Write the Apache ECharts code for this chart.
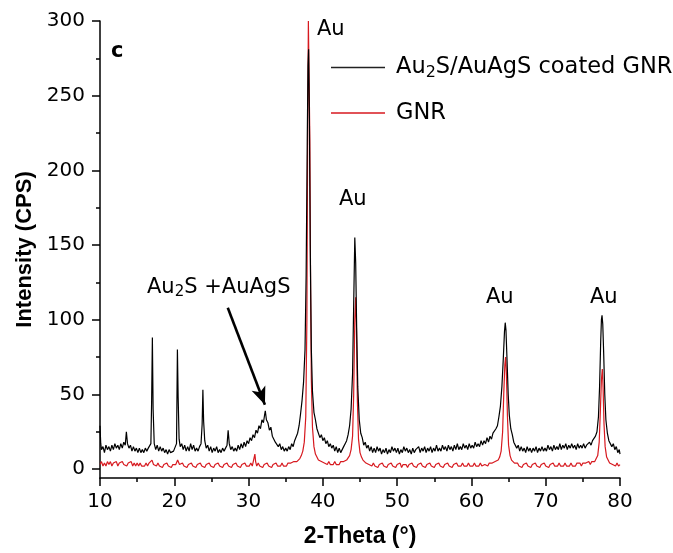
<!DOCTYPE html>
<html>
<head>
<meta charset="utf-8">
<script src="https://cdn.jsdelivr.net/npm/echarts@6/dist/echarts.min.js"></script>
<style>html,body{margin:0;padding:0;background:#fff;}#chart{width:673px;height:553px;}</style>
</head>
<body>
<div id="chart"></div>
<script>
// ---- data (2-Theta in degrees, intensity in CPS) ----
const coatedGNR = [
[10.0,29],[10.1,17],[10.2,13],[10.4,15],[10.6,11],[10.8,16],[11.0,13],[11.2,15],[11.4,12],[11.6,16],[11.8,13],[12.0,17],[12.2,14],[12.4,16],[12.6,13],[12.8,17],[13.0,14],[13.2,18],[13.4,16],[13.55,25],[13.7,17],[13.9,14],[14.1,16],[14.3,12],[14.5,15],[14.7,12],[14.9,14],[15.1,11],[15.3,14],[15.5,11],[15.7,13],[15.9,11],[16.1,14],[16.3,12],[16.5,14],[16.7,13],[16.85,17],[16.95,45],[17.05,88],[17.15,40],[17.3,17],[17.5,13],[17.7,16],[17.9,12],[18.1,15],[18.3,12],[18.5,14],[18.7,11],[18.9,13],[19.1,10],[19.3,13],[19.5,11],[19.7,10],[19.9,12],[20.1,11],[20.3,17],[20.42,80],[20.52,48],[20.65,20],[20.8,15],[21.0,17],[21.2,13],[21.4,16],[21.6,12],[21.8,15],[22.0,12],[22.2,17],[22.4,13],[22.6,16],[22.8,12],[23.0,14],[23.2,12],[23.4,15],[23.6,17],[23.75,30],[23.85,53],[23.95,32],[24.1,19],[24.3,14],[24.5,16],[24.7,12],[24.9,15],[25.1,11],[25.3,14],[25.5,12],[25.7,15],[25.9,11],[26.1,13],[26.3,11],[26.5,14],[26.7,12],[26.9,14],[27.1,16],[27.25,26],[27.4,17],[27.6,13],[27.8,15],[28.0,12],[28.2,14],[28.4,12],[28.6,16],[28.8,13],[29.0,17],[29.2,14],[29.4,18],[29.6,15],[29.8,19],[30.0,17],[30.2,21],[30.4,19],[30.6,23],[30.8,21],[31.0,26],[31.2,24],[31.4,29],[31.6,27],[31.8,33],[32.0,31],[32.15,36],[32.25,39],[32.4,33],[32.6,31],[32.8,26],[33.0,28],[33.2,22],[33.4,23],[33.6,18],[33.8,19],[34.0,15],[34.2,17],[34.4,13],[34.6,15],[34.8,12],[35.0,14],[35.2,12],[35.4,15],[35.6,13],[35.8,17],[36.0,15],[36.2,19],[36.4,18],[36.6,24],[36.8,29],[37.0,37],[37.2,46],[37.4,58],[37.6,80],[37.75,130],[37.9,220],[38.0,270],[38.08,281],[38.18,240],[38.3,150],[38.45,80],[38.6,52],[38.8,38],[39.0,33],[39.2,27],[39.4,26],[39.6,21],[39.8,23],[40.0,19],[40.2,21],[40.4,17],[40.6,19],[40.8,15],[41.0,17],[41.2,14],[41.4,16],[41.6,12],[41.8,15],[42.0,11],[42.2,14],[42.4,11],[42.6,12],[42.8,15],[43.0,17],[43.2,19],[43.4,23],[43.6,29],[43.8,40],[44.0,64],[44.15,110],[44.3,155],[44.42,138],[44.55,95],[44.7,55],[44.9,33],[45.1,24],[45.3,21],[45.5,16],[45.7,18],[45.9,14],[46.1,16],[46.3,12],[46.5,15],[46.7,11],[46.9,14],[47.1,11],[47.3,15],[47.5,12],[47.7,14],[47.9,10],[48.1,13],[48.3,11],[48.5,14],[48.7,10],[48.9,13],[49.1,11],[49.3,15],[49.5,12],[49.7,14],[49.9,11],[50.1,14],[50.3,10],[50.5,13],[50.7,11],[50.9,15],[51.1,12],[51.3,14],[51.5,11],[51.7,13],[51.9,10],[52.1,14],[52.3,11],[52.5,13],[52.7,12],[52.9,15],[53.1,11],[53.3,14],[53.5,12],[53.7,15],[53.9,11],[54.1,14],[54.3,12],[54.5,15],[54.7,11],[54.9,14],[55.1,12],[55.3,16],[55.5,12],[55.7,14],[55.9,12],[56.1,16],[56.3,13],[56.5,15],[56.7,12],[56.9,16],[57.1,13],[57.3,15],[57.5,12],[57.7,16],[57.9,13],[58.1,17],[58.3,13],[58.5,15],[58.7,13],[58.9,17],[59.1,14],[59.3,16],[59.5,13],[59.7,17],[59.9,14],[60.1,16],[60.3,14],[60.5,18],[60.7,15],[60.9,17],[61.1,15],[61.3,19],[61.5,16],[61.7,19],[61.9,17],[62.1,21],[62.3,18],[62.5,22],[62.7,20],[62.9,24],[63.1,23],[63.3,27],[63.5,29],[63.7,35],[63.9,42],[64.1,55],[64.3,75],[64.45,92],[64.55,98],[64.65,93],[64.8,72],[64.95,50],[65.1,36],[65.3,27],[65.5,23],[65.7,18],[65.9,19],[66.1,14],[66.3,16],[66.5,12],[66.7,15],[66.9,12],[67.1,14],[67.3,11],[67.5,15],[67.7,12],[67.9,14],[68.1,11],[68.3,14],[68.5,12],[68.7,15],[68.9,11],[69.1,14],[69.3,12],[69.5,15],[69.7,12],[69.9,14],[70.1,12],[70.3,16],[70.5,13],[70.7,15],[70.9,12],[71.1,16],[71.3,13],[71.5,15],[71.7,13],[71.9,17],[72.1,13],[72.3,16],[72.5,14],[72.7,17],[72.9,13],[73.1,16],[73.3,14],[73.5,17],[73.7,14],[73.9,16],[74.1,13],[74.3,17],[74.5,14],[74.7,16],[74.9,14],[75.1,17],[75.3,14],[75.5,16],[75.7,15],[75.9,18],[76.1,16],[76.3,19],[76.5,18],[76.7,22],[76.9,25],[77.1,35],[77.25,55],[77.4,85],[77.5,100],[77.58,103],[77.68,97],[77.8,78],[77.95,50],[78.1,33],[78.3,24],[78.5,19],[78.7,20],[78.9,15],[79.1,17],[79.3,13],[79.5,15],[79.7,11],[79.9,13],[80.0,10]
];
const bareGNR = [
[10.0,3],[10.2,5],[10.4,2],[10.6,4],[10.8,2],[11.0,5],[11.2,3],[11.4,5],[11.6,2],[11.8,4],[12.0,3],[12.2,5],[12.4,2],[12.6,4],[12.8,3],[13.0,5],[13.2,3],[13.4,4],[13.6,2],[13.8,4],[14.0,3],[14.2,5],[14.4,2],[14.6,4],[14.8,2],[15.0,4],[15.2,2],[15.4,4],[15.6,2],[15.8,3],[16.0,2],[16.2,4],[16.4,2],[16.6,4],[16.8,3],[17.0,6],[17.2,3],[17.4,4],[17.6,2],[17.8,4],[18.0,2],[18.2,3],[18.4,1],[18.6,3],[18.8,2],[19.0,4],[19.2,2],[19.4,3],[19.6,1],[19.8,3],[20.0,2],[20.2,3],[20.45,6],[20.7,3],[20.9,2],[21.1,4],[21.3,2],[21.5,3],[21.7,1],[21.9,3],[22.1,2],[22.3,4],[22.5,2],[22.7,3],[22.9,1],[23.1,3],[23.3,2],[23.5,4],[23.7,2],[23.9,3],[24.1,1],[24.3,3],[24.5,2],[24.7,4],[24.9,2],[25.1,3],[25.3,1],[25.5,3],[25.7,2],[25.9,4],[26.1,2],[26.3,3],[26.5,1],[26.7,3],[26.9,2],[27.1,4],[27.3,2],[27.5,3],[27.7,1],[27.9,3],[28.1,2],[28.3,4],[28.5,2],[28.7,3],[28.9,1],[29.1,3],[29.3,2],[29.5,4],[29.7,2],[29.9,3],[30.1,2],[30.3,4],[30.5,2],[30.7,3],[30.85,10],[30.95,5],[31.1,2],[31.3,4],[31.5,2],[31.7,3],[31.9,1],[32.1,3],[32.3,2],[32.5,4],[32.7,2],[32.9,3],[33.1,1],[33.3,3],[33.5,2],[33.7,4],[33.9,2],[34.1,3],[34.3,2],[34.5,4],[34.7,2],[34.9,3],[35.1,2],[35.3,4],[35.5,3],[35.7,4],[35.9,3],[36.1,5],[36.3,4],[36.5,5],[36.7,6],[36.9,7],[37.1,9],[37.3,12],[37.5,18],[37.7,35],[37.85,100],[37.95,220],[38.05,300],[38.15,300],[38.25,220],[38.35,120],[38.45,60],[38.6,28],[38.8,15],[39.0,10],[39.2,8],[39.4,6],[39.6,7],[39.8,5],[40.0,6],[40.2,4],[40.4,5],[40.6,3],[40.8,5],[41.0,3],[41.2,4],[41.4,3],[41.6,5],[41.8,3],[42.0,4],[42.2,3],[42.4,5],[42.6,4],[42.8,5],[43.0,5],[43.2,6],[43.4,7],[43.6,9],[43.8,13],[44.0,22],[44.15,50],[44.3,100],[44.42,115],[44.52,95],[44.65,45],[44.8,20],[45.0,11],[45.2,8],[45.4,6],[45.6,5],[45.8,4],[46.0,5],[46.2,3],[46.4,4],[46.6,2],[46.8,4],[47.0,2],[47.2,3],[47.4,1],[47.6,3],[47.8,2],[48.0,4],[48.2,2],[48.4,3],[48.6,1],[48.8,3],[49.0,2],[49.2,4],[49.4,2],[49.6,3],[49.8,1],[50.0,3],[50.2,2],[50.4,4],[50.6,1],[50.8,3],[51.0,2],[51.2,3],[51.4,1],[51.6,3],[51.8,2],[52.0,4],[52.2,2],[52.4,3],[52.6,1],[52.8,3],[53.0,2],[53.2,4],[53.4,2],[53.6,3],[53.8,1],[54.0,3],[54.2,2],[54.4,4],[54.6,2],[54.8,3],[55.0,1],[55.2,3],[55.4,2],[55.6,4],[55.8,2],[56.0,3],[56.2,1],[56.4,3],[56.6,2],[56.8,4],[57.0,2],[57.2,3],[57.4,1],[57.6,3],[57.8,2],[58.0,4],[58.2,2],[58.4,3],[58.6,2],[58.8,4],[59.0,2],[59.2,3],[59.4,2],[59.6,4],[59.8,2],[60.0,3],[60.2,2],[60.4,4],[60.6,2],[60.8,3],[61.0,2],[61.2,4],[61.4,2],[61.6,3],[61.8,3],[62.0,4],[62.2,2],[62.4,4],[62.6,3],[62.8,4],[63.0,4],[63.2,5],[63.4,5],[63.6,6],[63.8,8],[64.0,12],[64.2,25],[64.35,50],[64.5,70],[64.6,75],[64.7,65],[64.85,35],[65.0,16],[65.2,9],[65.4,6],[65.6,5],[65.8,4],[66.0,3],[66.2,4],[66.4,2],[66.6,3],[66.8,1],[67.0,3],[67.2,2],[67.4,4],[67.6,2],[67.8,3],[68.0,1],[68.2,3],[68.4,2],[68.6,4],[68.8,2],[69.0,3],[69.2,1],[69.4,3],[69.6,2],[69.8,4],[70.0,2],[70.2,3],[70.4,1],[70.6,3],[70.8,2],[71.0,4],[71.2,2],[71.4,3],[71.6,2],[71.8,4],[72.0,2],[72.2,3],[72.4,2],[72.6,4],[72.8,2],[73.0,3],[73.2,2],[73.4,4],[73.6,2],[73.8,3],[74.0,2],[74.2,4],[74.4,3],[74.6,4],[74.8,2],[75.0,4],[75.2,3],[75.4,4],[75.6,3],[75.8,5],[76.0,3],[76.2,5],[76.4,4],[76.6,5],[76.8,6],[77.0,9],[77.2,18],[77.35,38],[77.5,60],[77.62,67],[77.72,55],[77.85,30],[78.0,15],[78.2,8],[78.4,6],[78.6,4],[78.8,5],[79.0,3],[79.2,4],[79.4,2],[79.6,4],[79.8,2],[80.0,3]
];
const yMajorTicks = [0, 50, 100, 150, 200, 250, 300];
const yMinorTicks = [25, 75, 125, 175, 225, 275];
const seriesNames = ['Au2S/AuAgS coated GNR', 'GNR'];
// arrow annotation, in data coordinates (2-Theta, CPS)
const arrowStart = [27.2, 108];
const arrowEnd = [32.2, 43];

const chart = echarts.init(document.getElementById('chart'), null, {renderer: 'canvas'});
const hFont = 'DejaVu Sans';
const axisCol = '#000';
const option = {
  animation: false,
  backgroundColor: '#fff',
  grid: {left: 100, right: 53, top: 21, bottom: 72},
  legend: {
    orient: 'vertical', left: 331, top: 56, padding: 0, itemWidth: 54, itemHeight: 1.5, itemGap: 21,
    icon: 'rect', selectedMode: false,
    data: seriesNames,
    formatter: function (name) {
      if (name === seriesNames[0]) return '{a|Au}{s|2}{a|S/AuAgS coated GNR}';
      return '{a|' + name + '}';
    },
    textStyle: {
      padding: [0, 0, 0, 6],
      rich: {
        a: {fontFamily: hFont, fontSize: 22.5, color: '#000', lineHeight: 26},
        s: {fontFamily: hFont, fontSize: 16, color: '#000', lineHeight: 10, verticalAlign: 'bottom'}
      }
    }
  },
  xAxis: {
    type: 'value', min: 10, max: 80, interval: 10,
    name: '2-Theta (°)', nameLocation: 'middle', nameGap: 47,
    nameTextStyle: {fontFamily: 'Liberation Sans', fontWeight: 'bold', fontSize: 23, color: '#000'},
    axisLine: {show: true, onZero: false, lineStyle: {color: axisCol, width: 1.5}},
    axisTick: {show: true, inside: false, length: 8, lineStyle: {color: axisCol, width: 1.5}},
    minorTick: {show: true, splitNumber: 2, length: 4, lineStyle: {color: axisCol, width: 1.5}},
    axisLabel: {fontFamily: hFont, fontSize: 20, color: '#000', margin: 14},
    splitLine: {show: false}, minorSplitLine: {show: false}
  },
  yAxis: [{
    type: 'value', min: -6, max: 300,
    name: 'Intensity (CPS)', nameLocation: 'middle', nameGap: 64,
    nameTextStyle: {fontFamily: 'Liberation Sans', fontWeight: 'bold', fontSize: 22, color: '#000'},
    axisLine: {show: true, onZero: false, lineStyle: {color: axisCol, width: 1.5}},
    axisTick: {show: true, inside: false, length: 8, customValues: yMajorTicks, lineStyle: {color: axisCol, width: 1.5}},
    axisLabel: {fontFamily: hFont, fontSize: 20, color: '#000', margin: 15, customValues: yMajorTicks},
    splitLine: {show: false}
  }, {
    type: 'value', min: -6, max: 300, position: 'left',
    axisLine: {show: false},
    axisTick: {show: true, inside: false, length: 4, customValues: yMinorTicks, lineStyle: {color: axisCol, width: 1.5}},
    axisLabel: {show: false, customValues: yMinorTicks},
    splitLine: {show: false}
  }],
  series: [{
    name: seriesNames[0], type: 'line', data: coatedGNR, yAxisIndex: 0,
    showSymbol: false, symbol: 'none', clip: true,
    lineStyle: {color: '#000', width: 1.2}, itemStyle: {color: '#222'},
    z: 3,
    markLine: {
      silent: true, symbol: ['none', 'arrow'], symbolSize: [11, 18],
      label: {show: false},
      lineStyle: {color: '#000', width: 2.6, type: 'solid'},
      data: [[{coord: arrowStart}, {coord: arrowEnd}]]
    }
  }, {
    name: seriesNames[1], type: 'line', data: bareGNR, yAxisIndex: 0,
    showSymbol: false, symbol: 'none', clip: true,
    lineStyle: {color: '#d7191f', width: 1.2}, itemStyle: {color: '#d7191f'},
    z: 2
  }],
  graphic: [
    {type: 'text', left: 111, top: 41, style: {text: 'c', fontFamily: hFont, fontWeight: 'bold', fontSize: 21, fill: '#000'}},
    {type: 'text', x: 317, y: 30, style: {text: 'Au', fontFamily: hFont, fontSize: 21, fill: '#000', verticalAlign: 'middle'}},
    {type: 'text', x: 339, y: 200, style: {text: 'Au', fontFamily: hFont, fontSize: 21, fill: '#000', verticalAlign: 'middle'}},
    {type: 'text', x: 486, y: 298, style: {text: 'Au', fontFamily: hFont, fontSize: 21, fill: '#000', verticalAlign: 'middle'}},
    {type: 'text', x: 590, y: 298, style: {text: 'Au', fontFamily: hFont, fontSize: 21, fill: '#000', verticalAlign: 'middle'}},
    {type: 'text', x: 147, y: 276, style: {
      text: '{a|Au}{s|2}{a|S +AuAgS}',
      rich: {
        a: {fontFamily: hFont, fontSize: 21, fill: '#000', color: '#000', lineHeight: 24},
        s: {fontFamily: hFont, fontSize: 15, fill: '#000', color: '#000', lineHeight: 10, verticalAlign: 'bottom'}
      }
    }}
  ]
};
chart.setOption(option);
</script>
</body>
</html>
